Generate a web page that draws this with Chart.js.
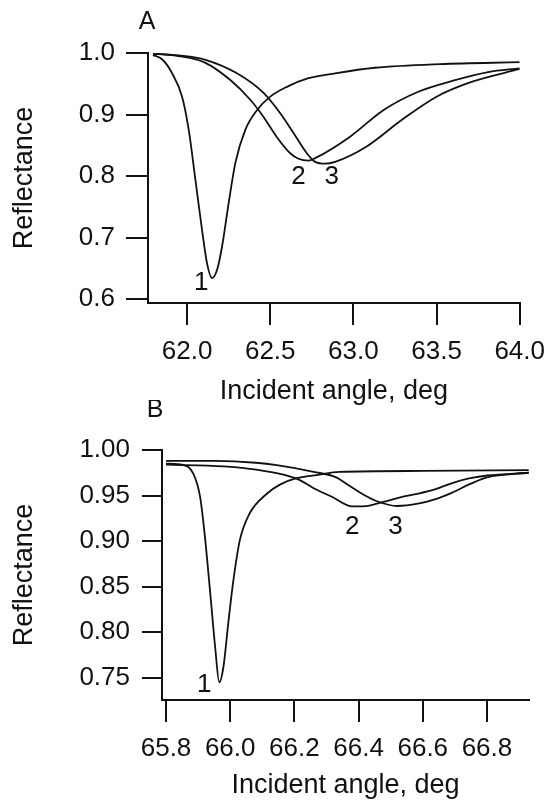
<!DOCTYPE html>
<html>
<head>
<meta charset="utf-8">
<script src="https://cdn.jsdelivr.net/npm/chart.js@4.4.1/dist/chart.umd.min.js"></script>
<style>
html,body{margin:0;padding:0;background:#fff;}
#wrap{position:relative;width:556px;height:802px;overflow:hidden;background:#fff;}
canvas{position:absolute;left:0;}
#cA{top:0;}
#cB{top:400px;}
</style>
</head>
<body>
<div id="wrap">
<canvas id="cA" width="556" height="420"></canvas>
<canvas id="cB" width="556" height="402"></canvas>
</div>
<script>
// ---------- Panel A data ----------
const aAngle1 = [61.795, 61.853, 61.91, 61.97, 62.01, 62.05, 62.09, 62.12, 62.15, 62.18, 62.21, 62.25, 62.29, 62.35, 62.42, 62.50, 62.60, 62.73, 62.89, 63.13, 63.52, 64.00];
const aRefl1  = [0.997, 0.989, 0.967, 0.929, 0.875, 0.794, 0.712, 0.658, 0.634, 0.647, 0.685, 0.756, 0.821, 0.875, 0.907, 0.929, 0.945, 0.959, 0.967, 0.976, 0.982, 0.985];
const aAngle2 = [61.795, 61.95, 62.11, 62.26, 62.38, 62.46, 62.54, 62.62, 62.67, 62.73, 62.77, 62.98, 63.18, 63.39, 63.60, 63.81, 64.00];
const aRefl2  = [0.999, 0.995, 0.984, 0.956, 0.924, 0.896, 0.863, 0.837, 0.828, 0.825, 0.829, 0.864, 0.907, 0.937, 0.955, 0.969, 0.975];
const aAngle3 = [61.795, 61.95, 62.11, 62.30, 62.46, 62.56, 62.64, 62.72, 62.77, 62.83, 62.89, 63.08, 63.29, 63.50, 63.71, 64.00];
const aRefl3  = [0.999, 0.996, 0.989, 0.967, 0.935, 0.902, 0.870, 0.837, 0.823, 0.820, 0.823, 0.848, 0.891, 0.929, 0.953, 0.974];
const aXTicks = [62.0, 62.5, 63.0, 63.5, 64.0];
const aYTicks = [0.6, 0.7, 0.8, 0.9, 1.0];
const aLabels = ["1", "2", "3"];
const aLabelAngle = [62.085, 62.67, 62.87];
const aLabelRefl  = [0.626, 0.798, 0.798];

// ---------- Panel B data ----------
const bAngle1 = [65.80, 65.854, 65.885, 65.906, 65.92, 65.937, 65.953, 65.966, 65.979, 65.994, 66.01, 66.03, 66.06, 66.114, 66.155, 66.207, 66.27, 66.34, 66.60, 66.93];
const bRefl1  = [0.985, 0.9835, 0.974, 0.949, 0.909, 0.846, 0.784, 0.745, 0.762, 0.810, 0.857, 0.901, 0.930, 0.952, 0.962, 0.969, 0.9725, 0.976, 0.977, 0.978];
const bAngle2 = [65.80, 65.98, 66.044, 66.152, 66.217, 66.26, 66.315, 66.38, 66.434, 66.477, 66.53, 66.585, 66.64, 66.694, 66.748, 66.80, 66.93];
const bRefl2  = [0.984, 0.982, 0.980, 0.974, 0.967, 0.958, 0.949, 0.938, 0.939, 0.943, 0.948, 0.952, 0.957, 0.964, 0.969, 0.972, 0.975];
const bAngle3 = [65.80, 65.95, 66.08, 66.15, 66.26, 66.33, 66.37, 66.42, 66.455, 66.52, 66.585, 66.64, 66.69, 66.75, 66.80, 66.93];
const bRefl3  = [0.988, 0.988, 0.986, 0.983, 0.976, 0.970, 0.961, 0.950, 0.944, 0.9385, 0.941, 0.946, 0.953, 0.963, 0.970, 0.975];
const bXTicks = [65.8, 66.0, 66.2, 66.4, 66.6, 66.8];
const bYTicks = [0.75, 0.80, 0.85, 0.90, 0.95, 1.00];
const bLabels = ["1", "2", "3"];
const bLabelAngle = [65.919, 66.38, 66.515];
const bLabelRefl  = [0.742, 0.9157, 0.9157];

const xTitle = "Incident angle, deg";
const yTitle = "Reflectance";

// ---------- helpers ----------
const FONT = "'Liberation Sans', Arial, Helvetica, sans-serif";
const INK = "#111";

function pts(xs, ys) { return xs.map((x, i) => ({ x: x, y: ys[i] })); }

function ds(xs, ys) {
  return {
    data: pts(xs, ys),
    borderColor: INK,
    borderWidth: 1.8,
    pointRadius: 0,
    fill: false,
    cubicInterpolationMode: 'monotone'
  };
}

const labelPlugin = {
  id: 'curveLabels',
  afterDatasetsDraw(chart) {
    const o = chart.options.plugins.curveLabels;
    const ctx = chart.ctx;
    const xs = chart.scales.x, ys = chart.scales.y;
    ctx.save();
    ctx.fillStyle = INK;
    ctx.font = "26px " + FONT;
    ctx.textAlign = 'center';
    ctx.textBaseline = 'middle';
    o.texts.forEach((t, i) => {
      ctx.fillText(t, xs.getPixelForValue(o.xs[i]), ys.getPixelForValue(o.ys[i]));
    });
    ctx.font = "25px " + FONT;
    ctx.fillText(o.letter, chart.chartArea.left + o.letterDx, chart.chartArea.top + o.letterDy);
    ctx.restore();
  }
};

function makePanel(id, cfg) {
  return new Chart(document.getElementById(id), {
    type: 'line',
    data: { datasets: cfg.sets },
    plugins: [labelPlugin],
    options: {
      responsive: false,
      animation: false,
      events: [],
      layout: { padding: { left: 0, top: cfg.top, right: cfg.right, bottom: 0 } },
      plugins: {
        legend: { display: false },
        tooltip: { enabled: false },
        curveLabels: cfg.labels
      },
      scales: {
        x: {
          type: 'linear',
          min: cfg.xMin, max: cfg.xMax,
          afterFit: s => { s.height = cfg.xHeight; },
          afterBuildTicks: s => { s.ticks = cfg.xTicks.map(v => ({ value: v })); },
          border: { display: true, color: INK, width: 2 },
          grid: { display: true, drawOnChartArea: false, drawTicks: true, tickLength: cfg.xTickLen, color: INK, lineWidth: 2 },
          ticks: {
            color: INK, font: { family: FONT, size: 26 }, padding: 11, maxRotation: 0, autoSkip: false,
            callback: v => Number(v).toFixed(1)
          },
          title: {
            display: true, text: xTitle, color: INK,
            font: { family: FONT, size: 27 },
            padding: { top: 0, bottom: cfg.xTitlePad }
          }
        },
        y: {
          type: 'linear',
          min: cfg.yMin, max: cfg.yMax,
          afterFit: s => { s.width = cfg.yWidth; },
          afterBuildTicks: s => { s.ticks = cfg.yTicks.map(v => ({ value: v })); },
          border: { display: true, color: INK, width: 2 },
          grid: { display: true, drawOnChartArea: false, drawTicks: true, tickLength: cfg.yTickLen, color: INK, lineWidth: 2 },
          ticks: {
            color: INK, font: { family: FONT, size: 26 }, padding: cfg.yPad, autoSkip: false,
            callback: v => Number(v).toFixed(cfg.yDec)
          },
          title: {
            display: true, text: yTitle, color: INK,
            font: { family: FONT, size: 27 },
            padding: { top: 8, bottom: 0 }
          }
        }
      }
    }
  });
}

makePanel('cA', {
  sets: [ds(aAngle1, aRefl1), ds(aAngle2, aRefl2), ds(aAngle3, aRefl3)],
  top: 53, right: 27, xHeight: 117, yWidth: 148,
  xMin: 61.765, xMax: 64.0, yMin: 0.5935, yMax: 1.0,
  xTicks: aXTicks, yTicks: aYTicks, yDec: 1,
  xTickLen: 22, yTickLen: 22, yPad: 11, xTitlePad: 12,
  labels: { texts: aLabels, xs: aLabelAngle, ys: aLabelRefl, letter: 'A', letterDx: -1, letterDy: -31 }
});

makePanel('cB', {
  sets: [ds(bAngle1, bRefl1), ds(bAngle2, bRefl2), ds(bAngle3, bRefl3)],
  top: 50, right: 27, xHeight: 102, yWidth: 162,
  xMin: 65.7875, xMax: 66.931, yMin: 0.7255, yMax: 1.0,
  xTicks: bXTicks, yTicks: bYTicks, yDec: 2,
  xTickLen: 22, yTickLen: 20, yPad: 12, xTitlePad: 0,
  labels: { texts: bLabels, xs: bLabelAngle, ys: bLabelRefl, letter: 'B', letterDx: -7, letterDy: -40 }
});
</script>
</body>
</html>
